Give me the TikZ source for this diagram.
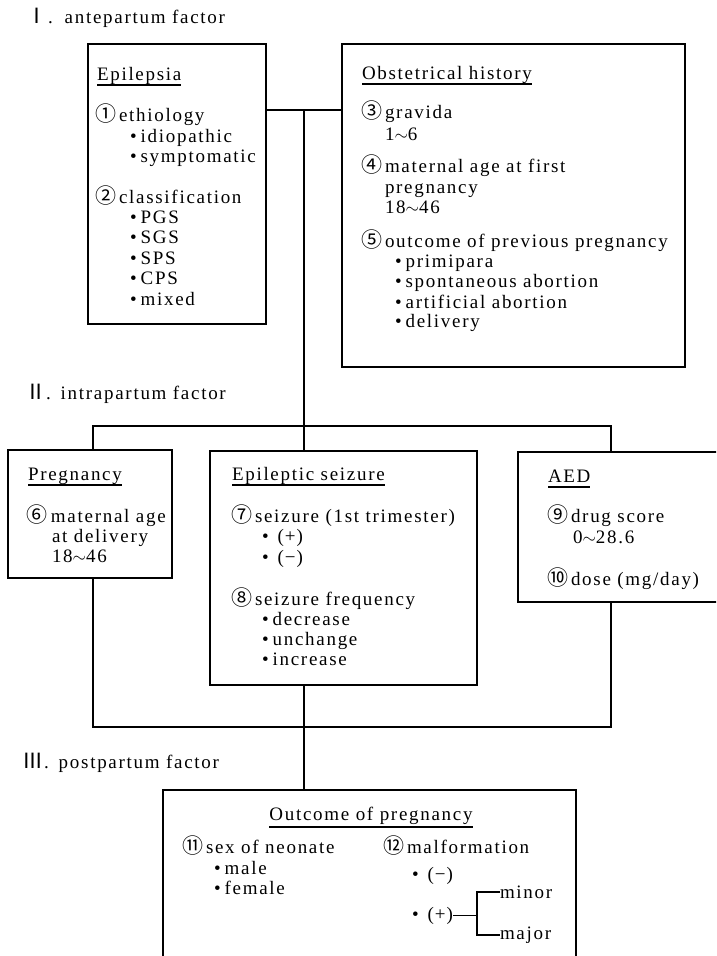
\documentclass[tikz,border=0pt]{standalone}
\usepackage{fontspec}
\setmainfont{Liberation Serif}[LetterSpace=9]
\newfontfamily\cjk{Noto Sans CJK JP}
\newcommand{\cn}[1]{{\cjk\fontsize{21}{21}\selectfont #1}\hspace{3pt}}
\newcommand{\bul}{\textbullet\hspace{4pt}}
\newcommand{\bulw}{\textbullet\hspace{9pt}}
\newcommand{\rn}[1]{{\cjk\fontsize{21}{21}\selectfont #1}}
\newcommand{\sgn}[1]{(\hspace{1pt}#1\hspace{1pt})}
\begin{document}
\begin{tikzpicture}[x=1pt,y=-1pt,
  box/.style={draw, line width=1.3pt, rectangle, anchor=north west, inner sep=0pt, outer sep=0pt},
  txt/.style={anchor=base west, inner sep=0pt, outer sep=0pt, font=\fontsize{19}{20}\selectfont},
  wire/.style={line width=1.3pt},
  uline/.style={line width=1.1pt}]
\path[use as bounding box, fill=white] (0,0) rectangle (716,956);
\clip (0,0) rectangle (716,956);

% ---------- section headers
\node[txt] (h1) at (27,23) {\rn{Ⅰ}.\hspace{12pt}antepartum factor};
\node[txt] (h2) at (25,399) {\rn{Ⅱ}.\hspace{10pt}intrapartum factor};
\node[txt] (h3) at (23,768) {\rn{Ⅲ}.\hspace{10pt}postpartum factor};

% ---------- boxes
\node[box, minimum width=178pt, minimum height=280pt] (epi) at (88,44) {};
\node[box, minimum width=343pt, minimum height=323pt] (obs) at (342,44) {};
\node[box, minimum width=164pt, minimum height=128pt] (preg) at (8,450) {};
\node[box, minimum width=267pt, minimum height=234pt] (seiz) at (210,451) {};
\node[box, minimum width=230pt, minimum height=150pt] (aed) at (518,452) {};
\node[box, minimum width=413pt, minimum height=200pt] (out) at (163,790) {};

% ---------- Epilepsia
\node[txt] (epiT) at (97,80) {Epilepsia};
\draw[uline] ([yshift=-5pt]epiT.base west) -- ([yshift=-5pt]epiT.base east);
\node[txt] (e1) at (95,121) {\cn{①}ethiology};
\node[txt] (e1a) at (130,142) {\bul idiopathic};
\node[txt] (e1b) at (130,162) {\bul symptomatic};
\node[txt] (e2) at (95,203) {\cn{②}classification};
\node[txt] (e2a) at (130,223) {\bul PGS};
\node[txt] (e2b) at (130,243) {\bul SGS};
\node[txt] (e2c) at (130,264) {\bul SPS};
\node[txt] (e2d) at (130,284) {\bul CPS};
\node[txt] (e2e) at (130,305) {\bul mixed};

% ---------- Obstetrical history
\node[txt] (obsT) at (362,79) {Obstetrical history};
\draw[uline] ([yshift=-5pt]obsT.base west) -- ([yshift=-5pt]obsT.base east);
\node[txt] (o3) at (361,118) {\cn{③}gravida};
\node[txt] (o3a) at (385,140) {1$\sim$6};
\node[txt] (o4) at (361,172) {\cn{④}maternal age at first};
\node[txt] (o4a) at (385,193) {pregnancy};
\node[txt] (o4b) at (385,213) {18$\sim$46};
\node[txt] (o5) at (361,247) {\cn{⑤}outcome of previous pregnancy};
\node[txt] (o5a) at (395,267) {\bul primipara};
\node[txt] (o5b) at (395,287) {\bul spontaneous abortion};
\node[txt] (o5c) at (395,308) {\bul artificial abortion};
\node[txt] (o5d) at (395,327) {\bul delivery};

% ---------- Pregnancy
\node[txt] (pregT) at (28,480) {Pregnancy};
\draw[uline] ([yshift=-5pt]pregT.base west) -- ([yshift=-5pt]pregT.base east);
\node[txt] (p6) at (27,522) {\cn{⑥}maternal age};
\node[txt] (p6a) at (52,542) {at delivery};
\node[txt] (p6b) at (52,562) {18$\sim$46};

% ---------- Epileptic seizure
\node[txt] (seizT) at (232,480) {Epileptic seizure};
\draw[uline] ([yshift=-5pt]seizT.base west) -- ([yshift=-5pt]seizT.base east);
\node[txt] (s7) at (231,522) {\cn{⑦}seizure (1st trimester)};
\node[txt] (s7a) at (262,542) {\bulw \sgn{+}};
\node[txt] (s7b) at (262,563) {\bulw \sgn{−}};
\node[txt] (s8) at (231,605) {\cn{⑧}seizure frequency};
\node[txt] (s8a) at (262,625) {\bul decrease};
\node[txt] (s8b) at (262,645) {\bul unchange};
\node[txt] (s8c) at (262,665) {\bul increase};

% ---------- AED
\node[txt] (aedT) at (548,482) {AED};
\draw[uline] ([yshift=-5pt]aedT.base west) -- ([yshift=-5pt]aedT.base east);
\node[txt] (a9) at (547,522) {\cn{⑨}drug score};
\node[txt] (a9a) at (573,543) {0$\sim$28.6};
\node[txt] (a10) at (547,585) {\cn{⑩}dose (mg/day)};

% ---------- Outcome of pregnancy
\node[txt, anchor=base] (outT) at (371,820) {Outcome of pregnancy};
\draw[uline] ([yshift=-7pt]outT.base west) -- ([yshift=-7pt]outT.base east);
\node[txt] (u11) at (182,853) {\cn{⑪}sex of neonate};
\node[txt] (u11a) at (214,874) {\bul male};
\node[txt] (u11b) at (214,894) {\bul female};
\node[txt] (u12) at (383,853) {\cn{⑫}malformation};
\node[txt] (u12a) at (412,880) {\bulw \sgn{−}};
\node[txt] (u12b) at (412,920) {\bulw \sgn{+}};
\node[txt, anchor=west] (minor) at (500,892) {minor};
\node[txt, anchor=west] (major) at (500,935) {major};
\coordinate (bt) at (477,892);
\coordinate (bb) at (477,935);
\draw[wire] (minor.west) -- (bt) -- (bb) -- (major.west);
\draw[wire] (u12b.east) -- (u12b.east -| bt);

% ---------- connectors
\coordinate (j1) at (304,110);
\coordinate (b2l) at (93,426);
\coordinate (b2r) at (611,426);
\coordinate (b3l) at (93,727);
\coordinate (b3r) at (611,727);
\draw[wire] (j1 -| epi.east) -- (j1 -| obs.west);
\draw[wire] (j1) -- (j1 |- seiz.north);
\draw[wire] (b2l |- preg.north) -- (b2l) -- (b2r) -- (b2r |- aed.north);
\draw[wire] (b3l |- preg.south) -- (b3l) -- (b3r) -- (b3r |- aed.south);
\draw[wire] (j1 |- seiz.south) -- (j1 |- out.north);
\end{tikzpicture}
\end{document}
